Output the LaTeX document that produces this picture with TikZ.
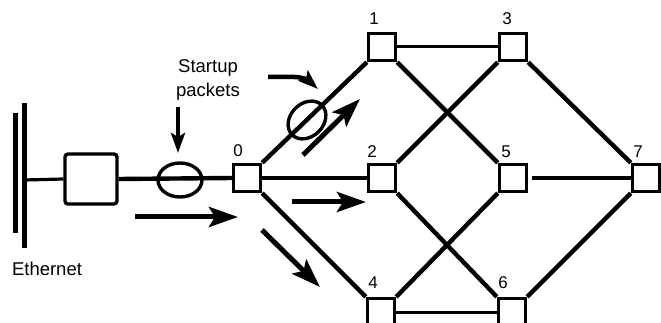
\documentclass[tikz,border=0pt]{standalone}
\usepackage{fontspec}
\setmainfont{Liberation Sans}
\usetikzlibrary{arrows.meta}
\begin{document}
\begin{tikzpicture}[x=1pt,y=-1pt,
  sq/.style={draw, line width=3.4pt, minimum size=27pt, inner sep=0pt, fill=white},
  lnk/.style={line width=4.4pt},
  thinlnk/.style={line width=3pt},
  num/.style={font=\fontsize{17}{17}\selectfont, inner sep=0pt},
  word/.style={font=\fontsize{18.5}{24}\selectfont, inner sep=0pt, align=center},
  bigarrow/.style={line width=5pt, -{Stealth[length=29pt,width=20pt,inset=6pt]}},
  smallarrow/.style={line width=4.5pt, -{Stealth[length=20pt,width=14pt,inset=4pt]}},
  bar/.style={line width=5pt}
]
\useasboundingbox (0,0) rectangle (661,323);
\clip (0,0) rectangle (661,323);

% Ethernet bus
\coordinate (busLtop) at (15.5,113);
\coordinate (busLbot) at (15.5,233);
\coordinate (busRtop) at (24.5,103);
\coordinate (busRbot) at (24.5,248);
\coordinate (busTap) at (24.5,180);
\draw[bar] (busLtop) -- (busLbot);
\draw[bar] (busRtop) -- (busRbot);
\node[word] (ethlbl) at (47,269) {Ethernet};

% transceiver box
\node[draw, line width=3.4pt, rounded corners=3pt, minimum width=52pt, minimum height=50pt, inner sep=0pt] (tx) at (91,179) {};

% switch nodes
\node[sq] (n0) at (247,178) {};
\node[sq] (n1) at (382,47) {};
\node[sq] (n3) at (513,47) {};
\node[sq] (n2) at (382,178) {};
\node[sq] (n5) at (513,178) {};
\node[sq] (n7) at (646,178) {};
\node[sq] (n4) at (381,312) {};
\node[sq] (n6) at (512,312) {};

% number labels
\node[num] (l0) at (238,151) {0};
\node[num] (l1) at (374,19) {1};
\node[num] (l3) at (507,19) {3};
\node[num] (l2) at (372,152) {2};
\node[num] (l5) at (506,152) {5};
\node[num] (l7) at (638,152) {7};
\node[num] (l4) at (373,283) {4};
\node[num] (l6) at (503,283) {6};

% connectors
\draw[line width=3.2pt] (busTap) -- (tx.west);
\draw[lnk] (tx.east) -- (n0.west);
\draw[lnk] (n0.north east) -- (n1.south west);
\draw[line width=4pt] (n0.east) -- (n2.west);
\draw[lnk] (n0.south east) -- (n4.north west);
\draw[thinlnk] (n1.east) -- (n3.west);
\draw[lnk] (n1.south east) -- (n5.north west);
\draw[lnk] (n3.south west) -- (n2.north east);
\draw[lnk] (n3.south east) -- (n7.north west);
\draw[lnk] (n2.south east) -- (n6.north west);
\draw[lnk] (n5.south west) -- (n4.north east);
\draw[line width=4pt, shorten <=4pt] (n5.east) -- (n7.west);
\draw[lnk] (n6.north east) -- (n7.south west);
\draw[thinlnk] (n4.east) -- (n6.west);

% packets (ellipses)
\draw[line width=3.4pt] (180,180) ellipse [x radius=22, y radius=17];
\draw[line width=3.4pt, rotate around={45:(307,120)}] (307,120) ellipse [x radius=21, y radius=16.5];

% text
\node[word] (startup) at (208,80) {Startup\\packets};

% arrows
\coordinate (a1s) at (135,217); \coordinate (a1e) at (238,217);
\coordinate (a2s) at (292,202); \coordinate (a2e) at (366,202);
\coordinate (a3s) at (262,230); \coordinate (a3e) at (320,287);
\coordinate (a4s) at (303,155); \coordinate (a4e) at (360,99);
\coordinate (a5s) at (178,107); \coordinate (a5e) at (178,153);
\coordinate (a6s) at (268,77); \coordinate (a6m) at (294,77); \coordinate (a6e) at (318,89);
\draw[bigarrow] (a1s) -- (a1e);
\draw[bigarrow] (a2s) -- (a2e);
\draw[bigarrow] (a3s) -- (a3e);
\draw[bigarrow] (a4s) -- (a4e);
\draw[smallarrow] (a5s) -- (a5e);
\draw[smallarrow] (a6s) -- (a6m) .. controls (302,77) and (308,80) .. (a6e);
\end{tikzpicture}
\end{document}
